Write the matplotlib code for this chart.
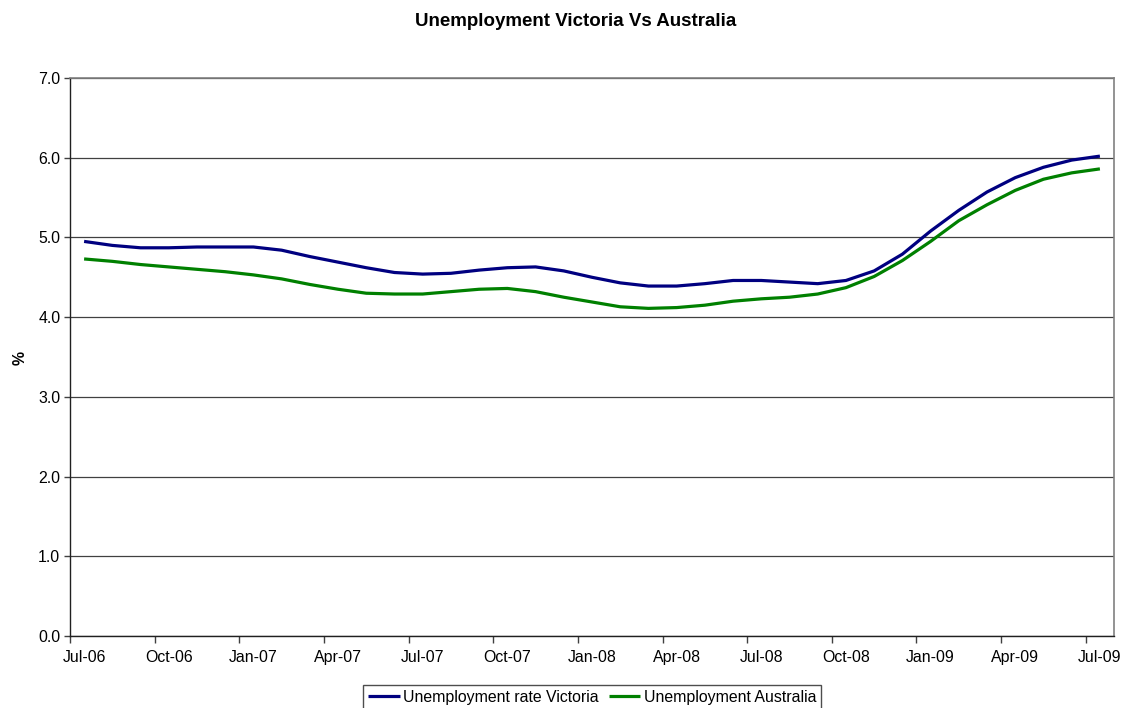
import numpy as np
import pandas as pd
import matplotlib
matplotlib.use('Agg')
import matplotlib.pyplot as plt

plt.rcParams['font.family'] = ['Liberation Sans', 'DejaVu Sans']

# monthly series, Jul-2006 .. Jul-2009
months = pd.date_range('2006-07-01', '2009-07-01', freq='MS')
victoria = [4.95, 4.90, 4.87, 4.87, 4.88, 4.88, 4.88, 4.84, 4.76, 4.69,
            4.62, 4.56, 4.54, 4.55, 4.59, 4.62, 4.63, 4.58, 4.50, 4.43,
            4.39, 4.39, 4.42, 4.46, 4.46, 4.44, 4.42, 4.46, 4.58, 4.79,
            5.08, 5.34, 5.57, 5.75, 5.88, 5.97, 6.02]
australia = [4.73, 4.70, 4.66, 4.63, 4.60, 4.57, 4.53, 4.48, 4.41, 4.35,
             4.30, 4.29, 4.29, 4.32, 4.35, 4.36, 4.32, 4.25, 4.19, 4.13,
             4.11, 4.12, 4.15, 4.20, 4.23, 4.25, 4.29, 4.37, 4.51, 4.71,
             4.95, 5.21, 5.41, 5.59, 5.73, 5.81, 5.86]
tick_labels = [m.strftime('%b-%y') for m in months[::3]]

fig = plt.figure(figsize=(11.24, 7.08), dpi=100)
ax = fig.add_axes([70 / 1124, 1 - 636 / 708, 1044 / 1124, 558 / 708])

x = np.arange(len(months))
ax.plot(x, victoria, color='#000080', lw=2.3, solid_capstyle='butt',
        label='Unemployment rate Victoria')
ax.plot(x, australia, color='#008000', lw=2.3, solid_capstyle='butt',
        label='Unemployment Australia')

ax.set_xlim(-0.5, len(months) - 0.5)
ax.set_ylim(0, 7)
ax.set_yticks(np.arange(0, 7.01, 1.0))
ax.set_yticklabels(['%.1f' % v for v in np.arange(0, 7.01, 1.0)])
ax.yaxis.grid(True, color='#404040', lw=0.9)
ax.set_axisbelow(True)

# category axis: tick marks between categories, labels on every 3rd month
ax.set_xticks(np.arange(-0.5, len(months), 3))
ax.set_xticklabels([])
ax.set_xticks(x[::3], minor=True)
ax.set_xticklabels(tick_labels, minor=True)
ax.tick_params(axis='x', which='major', length=5, width=1, color='#404040')
ax.tick_params(axis='x', which='minor', length=0, pad=10, labelsize=11.4)
ax.tick_params(axis='y', length=4, width=1, color='#404040', pad=3, labelsize=11.4)

for side in ('top', 'right'):
    ax.spines[side].set_color('#808080')
    ax.spines[side].set_linewidth(1.2)
for side in ('left', 'bottom'):
    ax.spines[side].set_color('#202020')
    ax.spines[side].set_linewidth(1.0)

fig.text(576 / 1124, 1 - 21 / 708, 'Unemployment Victoria Vs Australia',
         ha='center', va='center', fontsize=13.5, fontweight='bold')
fig.text(20 / 1124, 1 - 358 / 708, '%', rotation=90, ha='center', va='center',
         fontsize=11.4, fontweight='bold')

leg = fig.legend(loc='upper center', bbox_to_anchor=(592 / 1124, 1 - 685 / 708),
                 ncol=2, fontsize=11.4, frameon=True, fancybox=False,
                 handlelength=2.0, handletextpad=0.2, columnspacing=0.65,
                 borderpad=0.3, borderaxespad=0)
leg.get_frame().set_edgecolor('#202020')
leg.get_frame().set_linewidth(1.0)

fig.savefig('out.png', dpi=100)
